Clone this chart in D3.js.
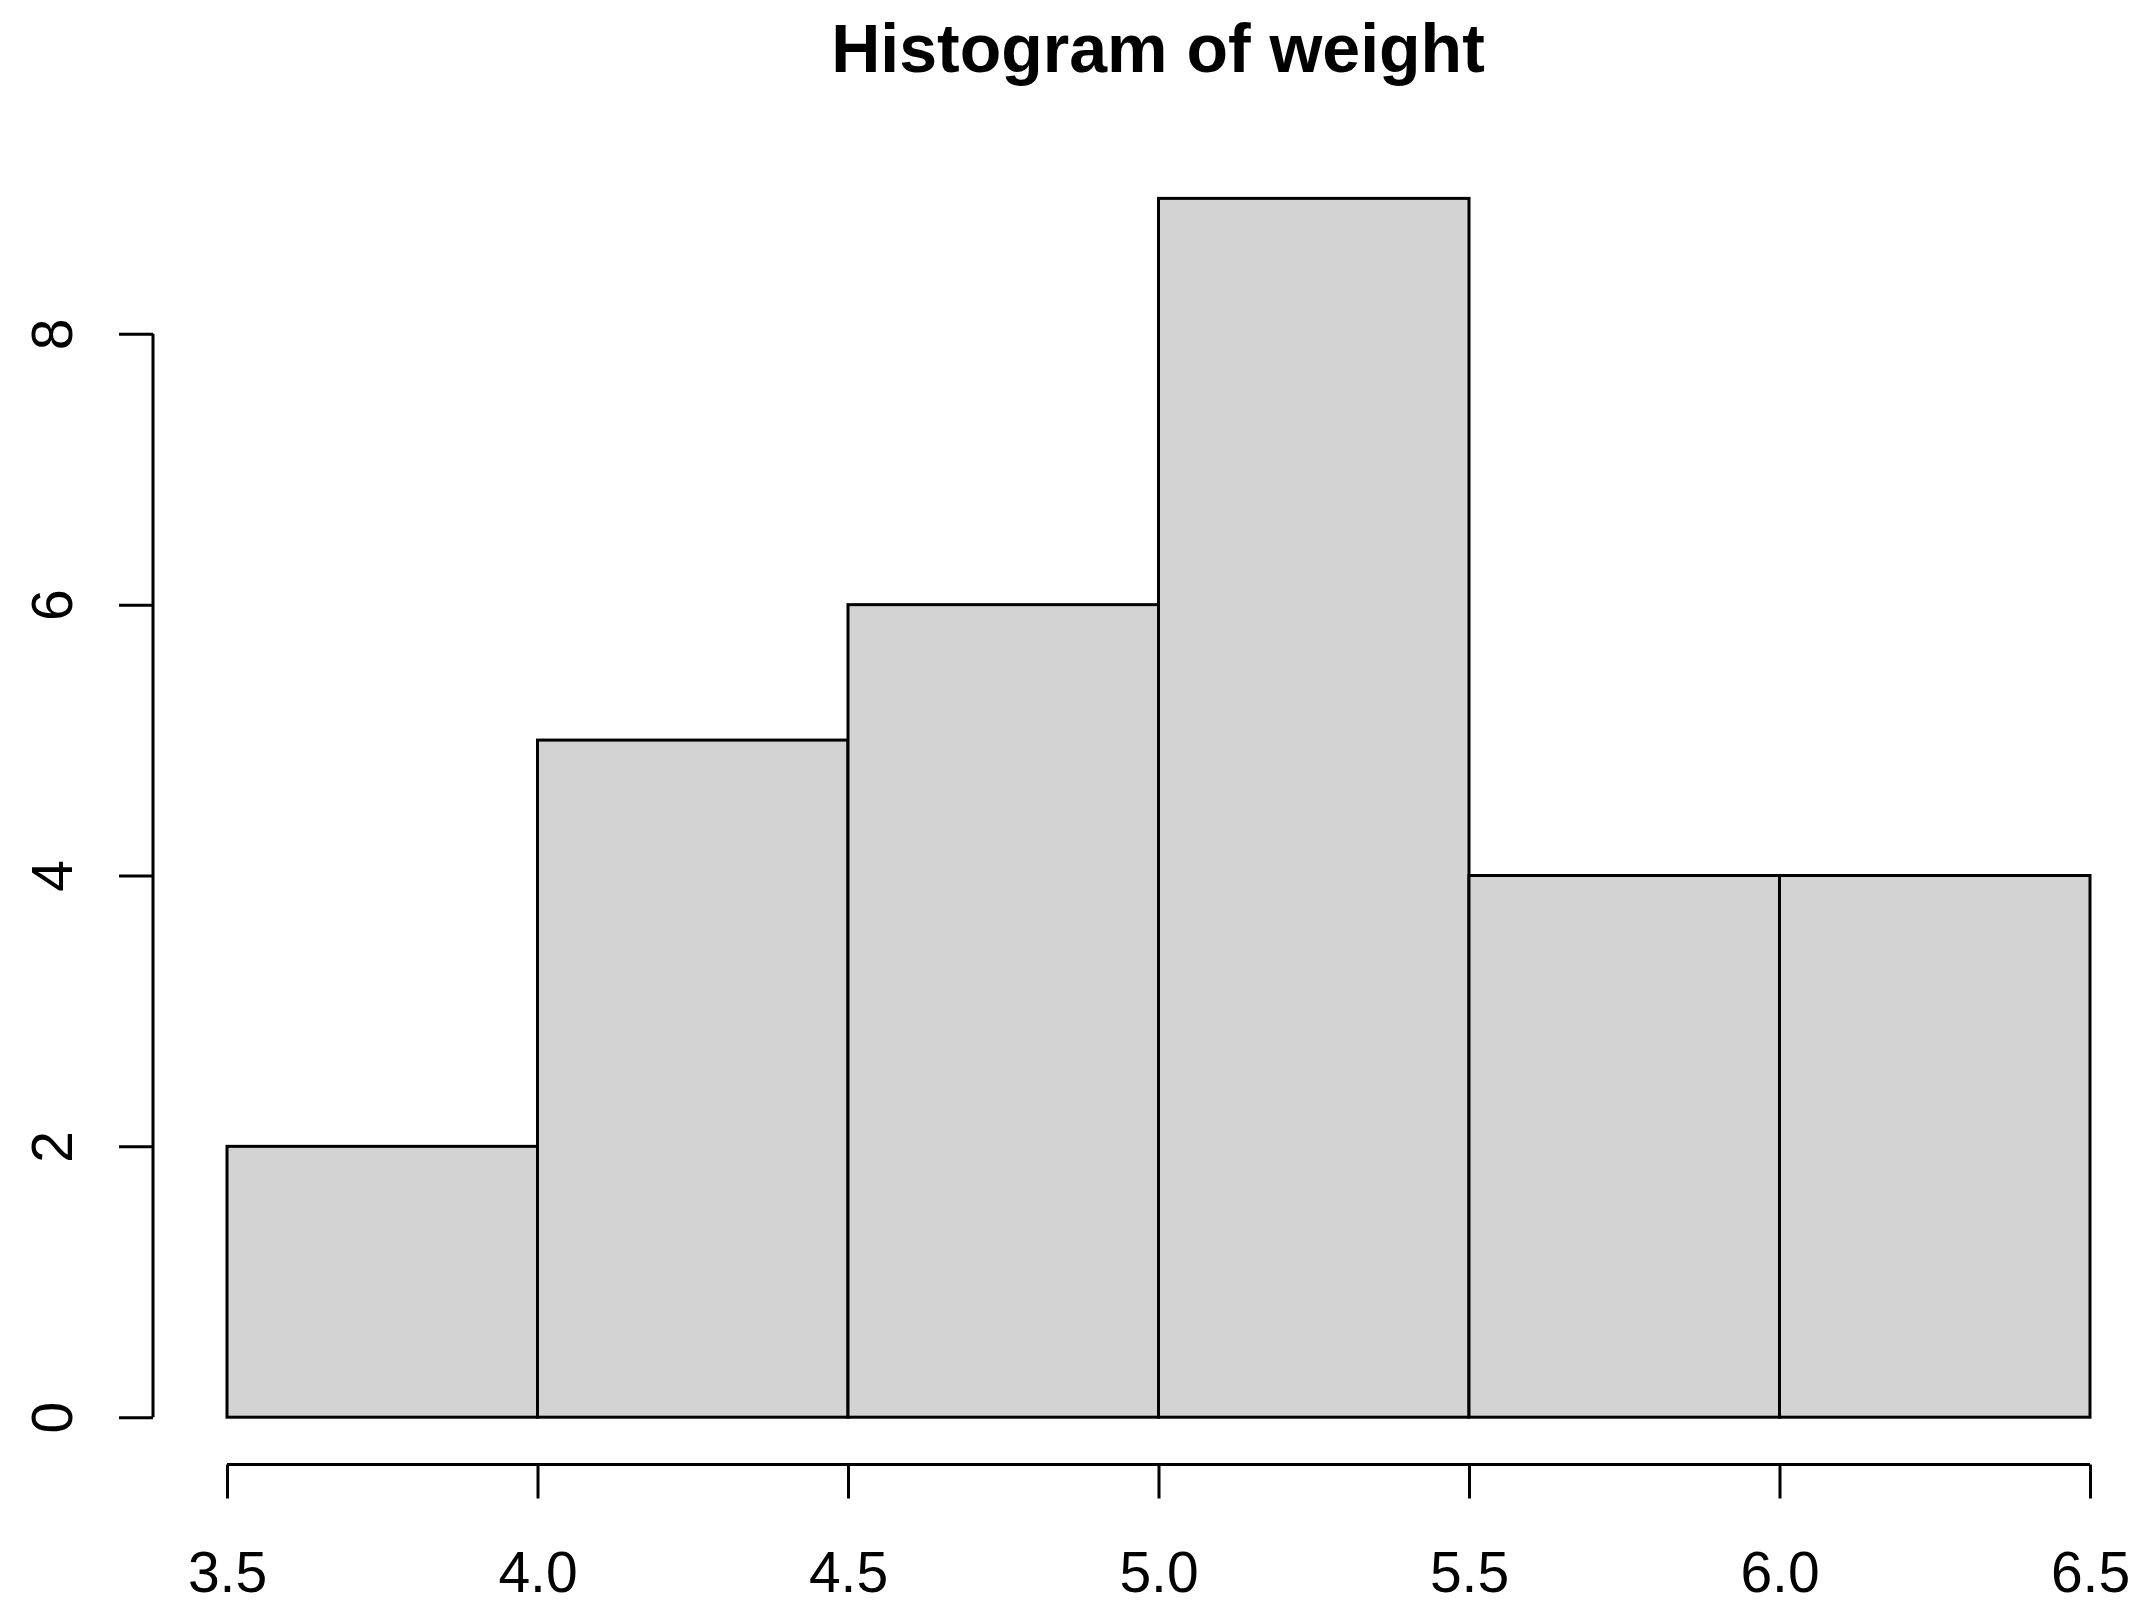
<!DOCTYPE html>
<html>
<head>
<meta charset="utf-8">
<script src="https://cdn.jsdelivr.net/npm/d3@7"></script>
<style>
html,body{margin:0;padding:0;background:#fff;}
svg{display:block;}
text{font-family:"Liberation Sans",Arial,sans-serif;fill:#000;}
</style>
</head>
<body>
<svg id="chart" width="2142" height="1603"></svg>
<script>
const titleText = "Histogram of weight";
const breaks = [3.5, 4.0, 4.5, 5.0, 5.5, 6.0, 6.5];
const counts = [2, 5, 6, 9, 4, 4];
const xTicks = [3.5, 4.0, 4.5, 5.0, 5.5, 6.0, 6.5];
const yTicks = [0, 2, 4, 6, 8];

const svg = d3.select("#chart");
const x = d3.scaleLinear().domain([3.5, 6.5]).range([227, 2090]);
const y = d3.scaleLinear().domain([0, 8]).range([1417.2, 333.8]);
const SW = 3;

const bins = counts.map((c, i) => ({x0: breaks[i], x1: breaks[i + 1], n: c}));

svg.append("g").selectAll("rect").data(bins).join("rect")
  .attr("x", d => x(d.x0))
  .attr("width", d => x(d.x1) - x(d.x0))
  .attr("y", d => y(d.n))
  .attr("height", d => y(0) - y(d.n))
  .attr("fill", "#d3d3d3")
  .attr("stroke", "#000")
  .attr("stroke-width", SW);

// x axis
const xAxisY = 1464.5;
const gx = svg.append("g").attr("transform", `translate(0,${xAxisY})`)
  .call(d3.axisBottom(x).tickValues(xTicks).tickSize(34).tickSizeOuter(0).tickFormat(d3.format(".1f")));
gx.select(".domain").attr("stroke", "#000").attr("stroke-width", SW)
  .attr("d", `M${x(xTicks[0])},0H${x(xTicks[xTicks.length-1])}`);
gx.selectAll(".tick line").attr("stroke", "#000").attr("stroke-width", SW);
gx.selectAll(".tick text").attr("y", 127.5).attr("dy", 0)
  .attr("font-size", 57).attr("font-family", "Liberation Sans, Arial, sans-serif").attr("fill", "#000");

// y axis
const yAxisX = 153;
const gy = svg.append("g").attr("transform", `translate(${yAxisX},0)`)
  .call(d3.axisLeft(y).tickValues(yTicks).tickSize(34).tickSizeOuter(0));
gy.select(".domain").attr("stroke", "#000").attr("stroke-width", SW)
  .attr("d", `M0,${y(yTicks[0])}V${y(yTicks[yTicks.length-1])}`);
gy.selectAll(".tick line").attr("stroke", "#000").attr("stroke-width", SW);
gy.selectAll(".tick text")
  .attr("x", null).attr("dy", 0)
  .attr("text-anchor", "middle")
  .attr("transform", "translate(-81,0) rotate(-90)")
  .attr("font-size", 57).attr("font-family", "Liberation Sans, Arial, sans-serif").attr("fill", "#000");

// title
svg.append("text")
  .attr("x", 1158).attr("y", 72)
  .attr("text-anchor", "middle")
  .attr("font-weight", "bold")
  .attr("font-size", 68)
  .text(titleText);
</script>
</body>
</html>
